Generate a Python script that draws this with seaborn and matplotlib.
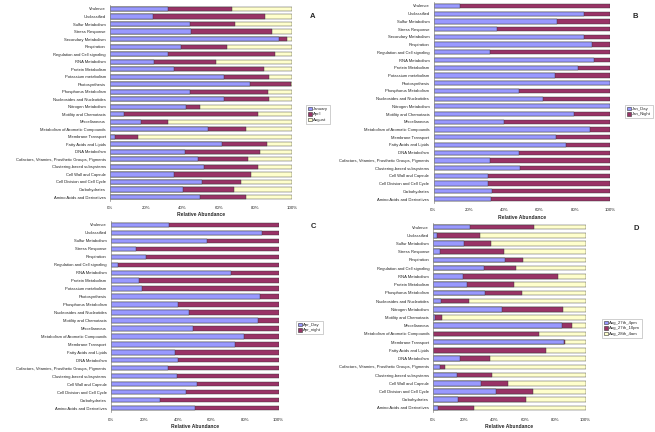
import pandas as pd
import seaborn as sns
import matplotlib.pyplot as plt
from matplotlib.patches import Patch

sns.set_theme(style="white")
plt.rcParams['font.family'] = ['Liberation Sans', 'DejaVu Sans']

# category lists (top to bottom as drawn)
cats_full = ['Virulence', 'Unclassified', 'Sulfur Metabolism', 'Stress Response',
             'Secondary Metabolism', 'Respiration', 'Regulation and Cell signaling',
             'RNA Metabolism', 'Protein Metabolism', 'Potassium metabolism',
             'Photosynthesis', 'Phosphorus Metabolism', 'Nucleosides and Nucleotides',
             'Nitrogen Metabolism', 'Motility and Chemotaxis', 'Miscellaneous',
             'Metabolism of Aromatic Compounds', 'Membrane Transport',
             'Fatty Acids and Lipids', 'DNA Metabolism',
             'Cofactors, Vitamins, Prosthetic Groups, Pigments',
             'Clustering-based subsystems', 'Cell Wall and Capsule',
             'Cell Division and Cell Cycle', 'Carbohydrates', 'Amino Acids and Derivatives']

cats_c = ['Virulence', 'Unclassified', 'Sulfur Metabolism', 'Stress Response',
          'Respiration', 'Regulation and Cell signaling', 'RNA Metabolism',
          'Protein Metabolism', 'Potassium metabolism', 'Photosynthesis',
          'Phosphorus Metabolism', 'Nucleosides and Nucleotides', 'Motility and Chemotaxis',
          'Miscellaneous', 'Metabolism of Aromatic Compounds', 'Membrane Transport',
          'Fatty Acids and Lipids', 'DNA Metabolism',
          'Cofactors, Vitamins, Prosthetic Groups, Pigments',
          'Clustering-based subsystems', 'Cell Wall and Capsule',
          'Cell Division and Cell Cycle', 'Carbohydrates', 'Amino Acids and Derivatives']

cats_d = ['Virulence', 'Unclassified', 'Sulfur Metabolism', 'Stress Response',
          'Respiration', 'Regulation and Cell signaling', 'RNA Metabolism',
          'Protein Metabolism', 'Phosphorus Metabolism', 'Nucleosides and Nucleotides',
          'Nitrogen Metabolism', 'Motility and Chemotaxis', 'Miscellaneous',
          'Metabolism of Aromatic Compounds', 'Membrane Transport',
          'Fatty Acids and Lipids', 'DNA Metabolism',
          'Cofactors, Vitamins, Prosthetic Groups, Pigments',
          'Clustering-based subsystems', 'Cell Wall and Capsule',
          'Cell Division and Cell Cycle', 'Carbohydrates', 'Amino Acids and Derivatives']

# A: seasonal (%)
january = [31.7, 23.5, 44.0, 44.6, 92.7, 39.0, 32.1, 24.2, 34.9, 62.8, 77.1, 44.0, 62.4,
           41.8, 7.7, 17.1, 54.1, 2.8, 61.5, 41.3, 48.3, 51.7, 35.2, 50.5, 40.0, 49.5]
april = [35.3, 61.8, 24.8, 44.4, 4.5, 25.2, 58.7, 34.1, 49.5, 24.4, 22.5, 42.8, 24.8,
         7.7, 73.6, 14.6, 20.6, 12.8, 24.7, 40.9, 27.5, 29.6, 42.4, 21.4, 27.9, 25.4]
august = [33.0, 14.7, 31.2, 11.0, 2.8, 35.8, 9.2, 41.7, 15.6, 12.8, 0.4, 13.2, 12.8,
          50.5, 18.7, 68.3, 25.3, 84.4, 13.8, 17.8, 24.2, 18.7, 22.4, 28.1, 32.1, 25.1]

# B: January day / night (%)
jan_day = [14.8, 85.4, 70.1, 36.0, 85.4, 89.6, 31.8, 91.1, 82.0, 68.8, 100.0, 48.5, 62.1,
           100.0, 79.8, 40.0, 88.7, 69.4, 74.9, 48.7, 32.1, 49.1, 30.6, 30.6, 33.4, 32.6]
jan_night = [100 - v for v in jan_day]

# C: April day / night (%)
apr_day = [34.9, 90.3, 57.5, 15.1, 21.0, 4.4, 71.6, 16.9, 18.7, 88.9, 40.3, 46.4, 87.9,
           49.2, 79.6, 73.8, 38.5, 40.3, 34.3, 39.3, 51.6, 44.8, 29.6, 50.4]
apr_night = [100 - v for v in apr_day]

# D: August diel (%)
aug_4pm = [24.3, 2.6, 20.4, 4.4, 47.3, 33.5, 19.3, 22.3, 33.7, 5.0, 44.9, 1.1, 84.7,
           0.0, 85.6, 0.0, 17.7, 4.2, 15.8, 31.5, 41.1, 16.4, 3.3]
aug_10pm = [41.6, 28.3, 17.5, 42.0, 11.6, 20.8, 62.3, 30.7, 24.5, 18.4, 40.2, 4.8, 6.1,
            69.6, 0.8, 73.7, 19.7, 3.2, 22.9, 17.3, 24.5, 44.4, 23.6]
aug_4am = [34.1, 69.1, 62.1, 53.6, 41.1, 45.7, 18.4, 47.0, 41.8, 76.6, 14.9, 94.1, 9.2,
           30.4, 13.6, 26.3, 62.6, 92.6, 61.3, 51.2, 34.4, 39.2, 73.1]

colors = ['#9999FF', '#993366', '#FFFFCC']
W, H = 655, 432


def panel(rect, cats, series, names, letter, letter_xy, leg_xy, fs=3.0):
    left, top, right, bottom = rect
    ax = fig.add_axes([left / W, 1 - bottom / H, (right - left) / W, (bottom - top) / H])
    # cumulative sums, drawn from the full bar down so each segment shows
    cum = []
    total = [0] * len(cats)
    for s in series:
        total = [t + v for t, v in zip(total, s)]
        cum.append(total)
    for i in range(len(series) - 1, -1, -1):
        df = pd.DataFrame({'cat': cats, 'val': cum[i]})
        sns.barplot(data=df, x='val', y='cat', order=cats, color=colors[i], orient='h',
                    width=0.55, edgecolor='#333333', linewidth=0.3, saturation=1, ax=ax)
    ax.set_xlim(0, 100)
    ax.set_ylim(len(cats) - 0.5, -0.5)
    ax.set_xticks(range(0, 101, 20))
    ax.set_xticklabels([f'{t}%' for t in range(0, 101, 20)], fontsize=fs + 0.2)
    ax.tick_params(axis='y', labelsize=fs, length=1.5, width=0.4, pad=1.5, colors='#222222')
    ax.tick_params(axis='x', length=0, pad=4)
    ax.set_ylabel('')
    ax.set_xlabel('Relative Abundance', fontsize=fs + 0.6, fontweight='bold', labelpad=1.5)
    for sp in ['top', 'right', 'bottom']:
        ax.spines[sp].set_visible(False)
    ax.spines['left'].set_color('#888888')
    ax.spines['left'].set_linewidth(0.5)
    fig.text(letter_xy[0] / W, 1 - letter_xy[1] / H, letter, fontsize=5.5,
             fontweight='bold', ha='center', va='center')
    handles = [Patch(facecolor=colors[i], edgecolor='#333333', linewidth=0.4)
               for i in range(len(series))]
    fig.legend(handles, names, loc='upper left', bbox_to_anchor=(leg_xy[0] / W, 1 - leg_xy[1] / H),
               fontsize=3.1, frameon=True, fancybox=False, edgecolor='#aaaaaa',
               handlelength=0.9, handleheight=0.9, handletextpad=0.3, borderpad=0.4,
               labelspacing=0.25, framealpha=1).get_frame().set_linewidth(0.4)
    return ax


fig = plt.figure(figsize=(W / 100, H / 100), dpi=100)

panel((110, 5.2, 292, 200.8), cats_full, [january, april, august],
      ['January', 'April', 'August'], 'A', (313, 17), (304, 103))
panel((433.5, 2.1, 610, 202.9), cats_full, [jan_day, jan_night],
      ['Jan_Day', 'Jan_Night'], 'B', (635, 16), (623, 103))
panel((110.7, 221, 278.7, 412), cats_c, [apr_day, apr_night],
      ['Apr_Day', 'Apr_night'], 'C', (313, 226), (294, 319))
panel((433.3, 222.9, 585.7, 412.1), cats_d, [aug_4pm, aug_10pm, aug_4am],
      ['Aug_27th_4pm', 'Aug_27th_10pm', 'Aug_28th_4am'], 'D', (636, 229), (600, 317))

fig.savefig('out.png', dpi=100)
